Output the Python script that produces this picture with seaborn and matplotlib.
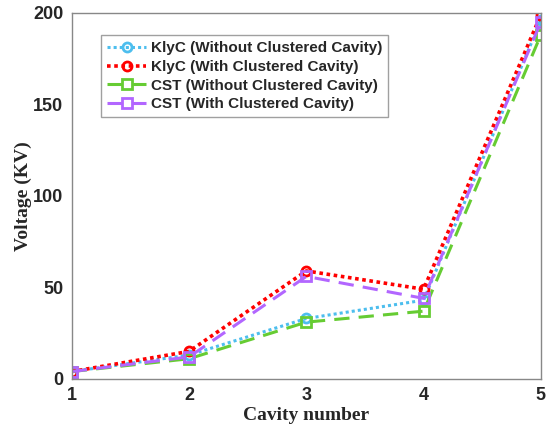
import matplotlib
matplotlib.use("Agg")
import matplotlib.pyplot as plt
import seaborn as sns
import pandas as pd

cavity = [1, 2, 3, 4, 5]
klyc_without = [4, 13, 33, 43, 196]
klyc_with = [4, 15, 59, 49, 199]
cst_without = [4, 11, 31, 37, 188]
cst_with = [4, 12, 56, 44, 195]
labels = ["KlyC (Without Clustered Cavity)", "KlyC (With Clustered Cavity)",
          "CST (Without Clustered Cavity)", "CST (With Clustered Cavity)"]

sns.set_theme(style="white")
plt.rcParams['font.family'] = ['Liberation Sans', 'DejaVu Sans']

fig = plt.figure(figsize=(5.48, 4.32), dpi=100)
ax = fig.add_axes([0.131, 0.123, 0.856, 0.847])

series = [klyc_without, klyc_with, cst_without, cst_with]
colors = ["#4DBEEE", "#FF0000", "#66CC33", "#B266FF"]
dashes = [(1, 1), (1, 1), (5, 3), (5, 3)]
markers = ["o", "o", "s", "s"]
lws = [2.2, 2.6, 2.2, 2.2]
for vals, lab, c, d, m, lw in zip(series, labels, colors, dashes, markers, lws):
    df = pd.DataFrame({"x": cavity, "y": vals})
    sns.lineplot(data=df, x="x", y="y", ax=ax, color=c, label=lab,
                 marker=m, markersize=6.5, markerfacecolor="none",
                 markeredgecolor=c, markeredgewidth=2, linewidth=lw,
                 dashes=d)
    ax.lines[-1].set_dashes(d)

ax.set_xlim(1, 5)
ax.set_ylim(0, 200)
ax.set_xticks([1, 2, 3, 4, 5])
ax.set_yticks([0, 50, 100, 150, 200])
for lbl in ax.get_xticklabels() + ax.get_yticklabels():
    lbl.set_fontweight("bold")
    lbl.set_fontsize(13)
ax.tick_params(axis="both", direction="in", length=4, color="#888888", pad=6)
ax.set_xlabel("Cavity number", fontsize=14, fontweight="bold", family="Liberation Serif", labelpad=2)
ax.set_ylabel("Voltage (KV)", fontsize=14, fontweight="bold", family="Liberation Serif", labelpad=1)
for sp in ax.spines.values():
    sp.set_color("#888888")
    sp.set_linewidth(1.0)

leg = ax.legend(loc="upper left", bbox_to_anchor=(0.045, 0.96), frameon=True,
                fancybox=False, edgecolor="#888888",
                prop={"weight": "bold", "size": 11}, handlelength=2.6,
                borderpad=0.4, labelspacing=0.3, handletextpad=0.3)
leg.get_frame().set_linewidth(1.0)

fig.savefig("out.png", dpi=100)
